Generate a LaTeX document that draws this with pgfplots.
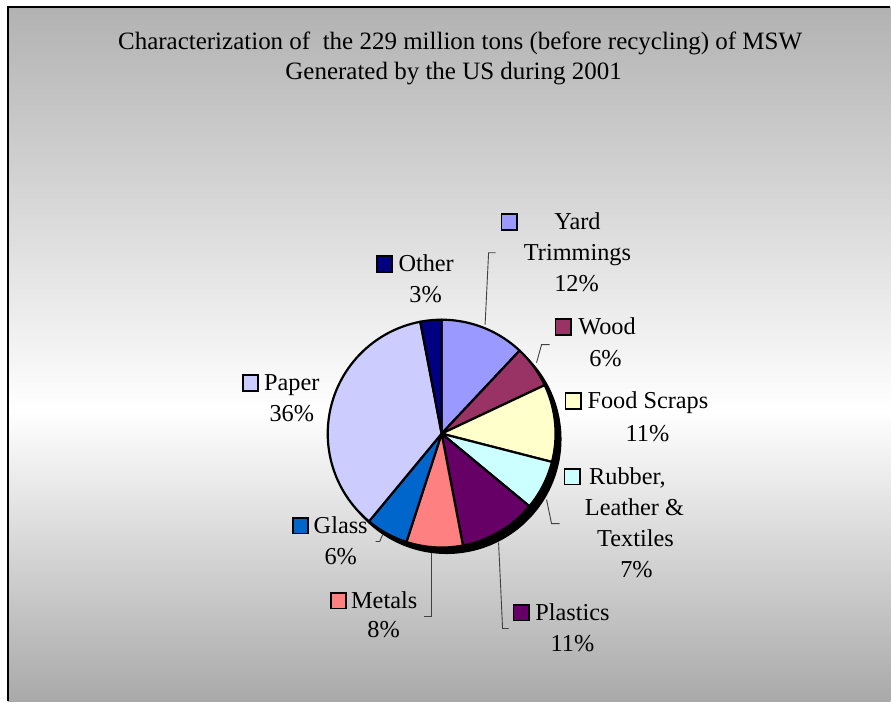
\documentclass[border=0pt]{standalone}
\usepackage{pgfplots}
\pgfplotsset{compat=1.18}
\usepackage{fontspec}
\setmainfont{Liberation Serif}
\definecolor{cyard}{HTML}{9999FF}
\definecolor{cwood}{HTML}{993366}
\definecolor{cfood}{HTML}{FFFFCC}
\definecolor{crubber}{HTML}{CCFFFF}
\definecolor{cplastics}{HTML}{660066}
\definecolor{cmetals}{HTML}{FF8080}
\definecolor{cglass}{HTML}{0066CC}
\definecolor{cpaper}{HTML}{CCCCFF}
\definecolor{cother}{HTML}{000080}
\definecolor{bgtop}{HTML}{B2B2B2}
\definecolor{bgbot}{HTML}{A9A9A9}
% #1 cumulative share before the slice, #2 share (percent), #3 colour
\newcommand{\pieslice}[3]{%
  \addplot[fill=#3, draw=black, line width=2.2pt, line join=round,
    domain={90-3.6*(#1+#2)}:{90-3.6*(#1)}, samples=60, variable=\t]
    ({442+114*cos(\t)}, {268+114*sin(\t)}) -- (axis cs:442,268) -- cycle;}
\newcommand{\lab}[3]{\node[anchor=base, inner sep=0pt, font=\fontsize{24.3}{29}\selectfont] at (axis cs:#1,#2) {#3};}
\newcommand{\key}[3]{\draw[fill=#3, line width=1.8pt] (axis cs:#1,#2) rectangle (axis cs:#1+15.5,#2+15.5);}
\begin{document}
\begin{tikzpicture}
\begin{axis}[
  hide axis, scale only axis, width=891pt, height=702pt,
  xmin=0, xmax=891, ymin=0, ymax=702, clip=false]
% background
\fill[white] (axis cs:0,0) rectangle (axis cs:891,702);
\shade[top color=bgtop, bottom color=white] (axis cs:8,290) rectangle (axis cs:891,695);
\shade[top color=white, bottom color=bgbot] (axis cs:8,0) rectangle (axis cs:891,290.5);
\draw[black, line width=1.5pt] (axis cs:8,0) -- (axis cs:8,695) -- (axis cs:891,695);
% title
\node[anchor=base, inner sep=0pt, font=\fontsize{25}{29}\selectfont] at (axis cs:460.5,652) {Characterization of \ the 229 million tons (before recycling) of MSW};
\node[anchor=base, inner sep=0pt, font=\fontsize{25}{29}\selectfont] at (axis cs:454,622) {Generated by the US during 2001};
% shadow
\addplot[fill=black, draw=none, domain=0:360, samples=181, variable=\t]
  ({447+115*cos(\t)}, {262.5+115*sin(\t)}) -- cycle;
% slices (percent): Yard 12, Wood 6, Food 11, Rubber 7, Plastics 11, Metals 8, Glass 6, Paper 36, Other 3
\pieslice{0}{12}{cyard}
\pieslice{12}{6}{cwood}
\pieslice{18}{11}{cfood}
\pieslice{29}{7}{crubber}
\pieslice{36}{11}{cplastics}
\pieslice{47}{8}{cmetals}
\pieslice{55}{6}{cglass}
\pieslice{61}{36}{cpaper}
\pieslice{97}{3}{cother}
% leader lines
\draw[black!75, line width=0.9pt] (axis cs:485.5,377) -- (axis cs:489,449) -- (axis cs:496,449);
\draw[black!75, line width=0.9pt] (axis cs:537,339) -- (axis cs:542,357) -- (axis cs:550,357);
\draw[black!75, line width=0.9pt] (axis cs:547,202) -- (axis cs:552,178) -- (axis cs:560,178);
\draw[black!75, line width=0.9pt] (axis cs:499,159) -- (axis cs:503,73) -- (axis cs:509,73);
\draw[black!75, line width=0.9pt] (axis cs:432,149) -- (axis cs:432,85) -- (axis cs:424,85);
\draw[black!75, line width=0.9pt] (axis cs:383,167) -- (axis cs:380,160) -- (axis cs:376,160);
% labels
\key{377}{430}{cother} \lab{426.5}{430}{Other} \lab{426}{399}{3\%}
\key{502}{472}{cyard} \lab{578}{472}{Yard} \lab{578}{441}{Trimmings} \lab{577}{410}{12\%}
\key{556}{367}{cwood} \lab{607.5}{367}{Wood} \lab{606}{335}{6\%}
\key{566}{293}{cfood} \lab{648.5}{293}{Food Scraps} \lab{648}{260}{11\%}
\key{565}{217}{crubber} \lab{628}{217}{Rubber,} \lab{635}{186}{Leather \&} \lab{636}{155}{Textiles} \lab{637}{124}{7\%}
\key{514}{81}{cplastics} \lab{573}{81}{Plastics} \lab{573}{50}{11\%}
\key{331}{93}{cmetals} \lab{384.5}{93}{Metals} \lab{384}{64}{8\%}
\key{293}{168}{cglass} \lab{341}{168}{Glass} \lab{341}{137}{6\%}
\key{243}{311}{cpaper} \lab{292}{311}{Paper} \lab{292}{280}{36\%}
\end{axis}
\end{tikzpicture}
\end{document}
